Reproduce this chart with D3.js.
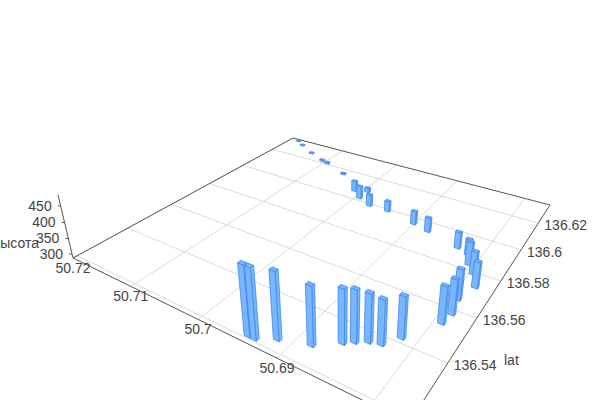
<!DOCTYPE html><html><head><meta charset="utf-8"><script src="https://cdnjs.cloudflare.com/ajax/libs/d3/7.8.5/d3.min.js"></script>
<style>html,body{margin:0;background:#fff;overflow:hidden}svg{display:block}text{font-family:"Liberation Sans",Arial,sans-serif;font-size:14px;fill:#444}</style></head><body><svg width="600" height="400"></svg><script>
const lonTicks=[50.72,50.71,50.70,50.69];
const lonGrid=[50.72,50.71,50.70,50.69,50.68];
const latTicks=[136.54,136.56,136.58,136.6,136.62];
const latGrid=[136.52,136.54,136.56,136.58,136.6,136.62];
const zTicks=[300,350,400,450];
const lons=[50.6942,50.6934,50.6915,50.6883,50.6860,50.6851,50.6840,50.6828,50.6816,50.6792,50.6789,50.6793,50.6785,50.6796,50.6807,50.6815,50.6831,50.6877,50.6900,50.6944,50.6972,50.6994,50.6994,50.7011,50.7053,50.7094,50.7106,50.7137,50.7168,50.7184];
const lats=[136.521,136.521,136.524,136.527,136.532,136.534,136.536,136.537,136.542,136.553,136.558,136.565,136.573,136.579,136.583,136.588,136.590,136.594,136.596,136.599,136.599,136.602,136.608,136.606,136.616,136.621,136.622,136.626,136.631,136.634];
const heights=[486,486,478,454,441,436,425,415,407,396,392,380,367,359,360,339,340,335,332,323,327,331,302,324,291,292,292,290,289,289];
const lonDomain=[50.72,50.6765],latDomain=[136.5185,136.6354],zDomain=[287,483.6];
const barLon=0.0007,barLat=0.0012;
const A=[73,258],D=[409,423],C=[550,205],B=[293,138],V=[340,1385],lam=-0.0532;
function hom(){const dx1=D[0]-C[0],dx2=B[0]-C[0],sx=A[0]-D[0]+C[0]-B[0],dy1=D[1]-C[1],dy2=B[1]-C[1],sy=A[1]-D[1]+C[1]-B[1],det=dx1*dy2-dx2*dy1,g=(sx*dy2-dx2*sy)/det,h=(dx1*sy-sx*dy1)/det;return {a:D[0]-A[0]+g*D[0],b:B[0]-A[0]+h*B[0],c:A[0],d:D[1]-A[1]+g*D[1],e:B[1]-A[1]+h*B[1],f:A[1],g,h};}
const H=hom();
const U=d3.scaleLinear().domain(lonDomain).range([0,1]),Vs=d3.scaleLinear().domain(latDomain).range([0,1]),T=d3.scaleLinear().domain(zDomain).range([0,1]);
function proj(lon,lat,z){const u=U(lon),v=Vs(lat),t=T(z),w=H.g*u+H.h*v+1+lam*t;return [(H.a*u+H.b*v+H.c+lam*t*V[0])/w,(H.d*u+H.e*v+H.f+lam*t*V[1])/w];}
const svg=d3.select("svg"),z0=zDomain[0];
const ln=(p,q,c)=>svg.append("line").attr("x1",p[0]).attr("y1",p[1]).attr("x2",q[0]).attr("y2",q[1]).attr("stroke",c).attr("stroke-width",1);
const txt=(x,y,s,anc)=>svg.append("text").attr("x",x).attr("y",y).attr("dy","0.35em").attr("text-anchor",anc).text(s);
lonGrid.forEach(l=>ln(proj(l,latDomain[0],z0),proj(l,latDomain[1],z0),"#d9d9d9"));
latGrid.forEach(l=>ln(proj(lonDomain[0],l,z0),proj(lonDomain[1],l,z0),"#d9d9d9"));
const e=[[lonDomain[0],latDomain[0]],[lonDomain[0],latDomain[1]],[lonDomain[1],latDomain[1]],[lonDomain[1],latDomain[0]]].map(c=>proj(c[0],c[1],z0));
[[0,1],[1,2],[2,3],[0,3]].forEach(i=>ln(e[i[0]],e[i[1]],"#555"));
ln(e[0],proj(lonDomain[0],latDomain[0],zDomain[1]),"#555");
zTicks.forEach(z=>{const p=proj(lonDomain[0],latDomain[0],z);ln(p,[p[0]-3,p[1]],"#555");txt(p[0]-9,p[1],String(z),"end");});
lonTicks.forEach(l=>{const p=proj(l,latDomain[0],z0);txt(p[0],p[1]+10,String(l),"middle");});
latTicks.forEach(l=>{const p=proj(lonDomain[1],l,z0);txt(p[0]+6,p[1]+2,String(l),"start");});
txt(39,243,"высота","end");
txt(504,360,"lat","start");
const bars=lons.map((lon,i)=>({lon,lat:lats[i],h:heights[i]})).sort((a,b)=>(Vs(b.lat)-U(b.lon))-(Vs(a.lat)-U(a.lon)));
const line=d3.line();
svg.selectAll("g.bar").data(bars).join("g").attr("class","bar").each(function(d){
  const g=d3.select(this),x0=d.lon+barLon/2,x1=d.lon-barLon/2,y0=d.lat-barLat/2,y1=d.lat+barLat/2;
  const faces=[
   [[x1,y0,z0],[x1,y1,z0],[x1,y1,d.h],[x1,y0,d.h]],
   [[x0,y0,z0],[x1,y0,z0],[x1,y0,d.h],[x0,y0,d.h]],
   [[x0,y0,d.h],[x1,y0,d.h],[x1,y1,d.h],[x0,y1,d.h]]];
  faces.forEach(f=>g.append("path").attr("d",line(f.map(p=>proj(p[0],p[1],p[2])))+"Z").attr("fill","#78b6fd").attr("stroke","#3f86f0").attr("stroke-width",0.8).attr("stroke-linejoin","round"));
});
</script></body></html>
